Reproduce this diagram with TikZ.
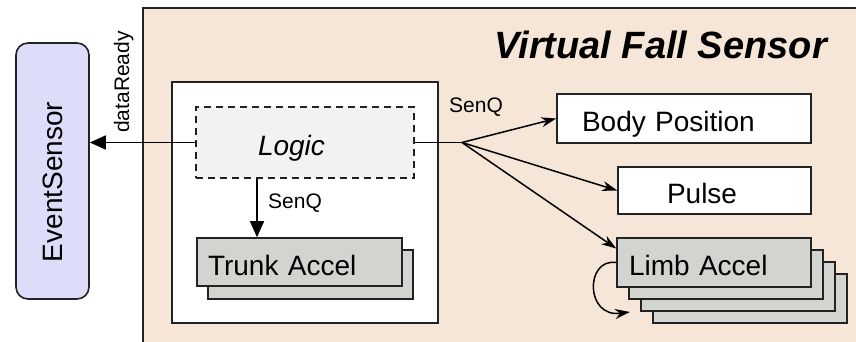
\documentclass[tikz,border=0pt]{standalone}
\usepackage{fontspec}
\setmainfont{Liberation Sans}
\usetikzlibrary{arrows.meta,calc}
\definecolor{tanbg}{HTML}{F5E6D7}
\definecolor{lav}{HTML}{DDDDFA}
\definecolor{boxgray}{HTML}{D2D4D0}
\definecolor{logicgray}{HTML}{F2F2F2}
\definecolor{edge}{HTML}{222222}
\newcommand{\dn}[1]{\raisebox{-6pt}[20pt][6pt]{#1}}
\begin{document}
\begin{tikzpicture}[x=1pt,y=-1pt,
  big/.style={font=\fontsize{28}{32}\selectfont},
  small/.style={font=\fontsize{21}{24}\selectfont},
  box/.style={draw=edge,line width=1.6pt,fill=white,inner ysep=0pt,align=left,big},
  stackbox/.style={box,fill=boxgray},
  arr/.style={draw=black,line width=1.5pt,-{Triangle[length=16pt,width=14pt]}},
  farr/.style={draw=black,line width=1.5pt,-{Stealth[length=15pt,width=10pt]}},
  lbl/.style={inner sep=0pt,small}]
\clip (0,0) rectangle (856,342);
\useasboundingbox (0,0) rectangle (856,342);
% containers
\draw[draw=edge,line width=1.6pt,fill=tanbg] (143,8) rectangle (900,400);
\draw[draw=edge,line width=1.6pt,fill=white] (172,82) rectangle (438,323);
\node[anchor=base east,inner sep=0pt,font=\fontsize{38}{42}\selectfont\bfseries\itshape] (title) at (827,59) {Virtual Fall Sensor};
% event sensor
\node[box,fill=lav,rounded corners=12pt,rotate=90,minimum height=73pt,inner xsep=37pt,text width=182pt] (event) at (52.5,171) {\raisebox{-3pt}[20pt][6pt]{EventSensor}};
% logic
\node[box,fill=logicgray,dashed,dash pattern=on 7pt off 5pt,minimum height=71pt,inner xsep=62pt,text width=94pt,font=\fontsize{28}{32}\selectfont\itshape] (logic) at (305,142.5) {\dn{Logic}};
% trunk accel
\node[stackbox,minimum height=49pt,inner xsep=11pt,text width=183pt] (trunkB) at (310.5,274.5) {};
\node[stackbox,minimum height=48pt,inner xsep=11pt,text width=183pt] (trunk) at (299.5,262) {\dn{Trunk Accel}};
% right boxes
\node[box,minimum height=49pt,inner xsep=25pt,text width=204pt] (body) at (684,118.5) {\dn{Body Position}};
\node[box,minimum height=47pt,inner xsep=49pt,text width=95pt] (pulse) at (714.5,190.5) {\dn{Pulse}};
\node[stackbox,minimum height=49pt,inner xsep=12pt,text width=170pt] (limbD) at (750,298.5) {};
\node[stackbox,minimum height=49pt,inner xsep=12pt,text width=170pt] (limbC) at (738,286.5) {};
\node[stackbox,minimum height=49pt,inner xsep=12pt,text width=170pt] (limbB) at (726,274.5) {};
\node[stackbox,minimum height=49pt,inner xsep=12pt,text width=170pt] (limb) at (714,262.5) {\dn{Limb Accel}};
% connectors
\draw[arr] (logic.west) -- (logic.west -| event.south);
\node[lbl,rotate=90,anchor=base west] (dr) at (129,133) {dataReady};
\coordinate (down) at (257,178);
\draw[arr] (logic.south -| down) -- (trunk.north -| down);
\node[lbl,anchor=base west] (senq1) at (268,208) {SenQ};
\coordinate (fan) at (462,142.5);
\draw[line width=1.5pt] (logic.east) -- (fan);
\draw[farr] (fan) -- (body.west);
\draw[farr] (fan) -- (pulse.west);
\draw[farr] (fan) -- ([yshift=14pt]limb.west);
\node[lbl,anchor=base west] (senq2) at (449,113) {SenQ};
\coordinate (loopend) at (630,312);
\draw[farr] (limb.west) .. controls (585,258) and (585,318) .. (loopend);
\end{tikzpicture}
\end{document}
